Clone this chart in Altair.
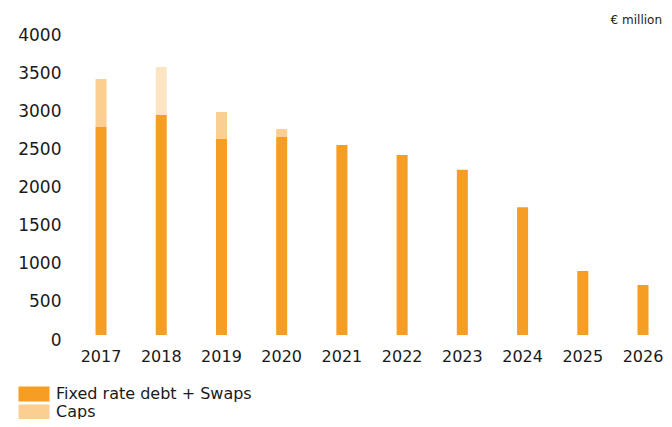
import altair as alt
import pandas as pd

years = ["2017", "2018", "2019", "2020", "2021", "2022", "2023", "2024", "2025", "2026"]
fixed_swaps = [2728, 2885, 2570, 2597, 2492, 2361, 2168, 1675, 839, 656]
caps = [629, 630, 355, 105, 0, 0, 0, 0, 0, 0]
series_names = ["Fixed rate debt + Swaps", "Caps"]
colors = ["#F59E23", "#FBCF91"]

rows = []
for i, y in enumerate(years):
    rows.append({"year": y, "series": series_names[0], "value": fixed_swaps[i], "order": 0})
    rows.append({"year": y, "series": series_names[1], "value": caps[i], "order": 1})
df = pd.DataFrame(rows)

FONT = "DejaVu Sans"

bars = alt.Chart(df).mark_bar().encode(
    x=alt.X("year:N", sort=years,
            scale=alt.Scale(paddingInner=0.817, paddingOuter=0.357, align=0.64),
            axis=alt.Axis(title=None, labelAngle=0, ticks=False, domain=False,
                          labelFontSize=16, labelFont=FONT, labelColor="#1a1a1a",
                          labelPadding=13)),
    y=alt.Y("value:Q", stack="zero",
            scale=alt.Scale(domain=[0, 4000], nice=False),
            axis=alt.Axis(title=None, values=[0, 500, 1000, 1500, 2000, 2500, 3000, 3500, 4000],
                          format="d", ticks=False, domain=False, grid=False,
                          labelFontSize=17, labelFont=FONT, labelColor="#1a1a1a",
                          labelPadding=7, labelOffset=5)),
    color=alt.Color("series:N", sort=series_names,
                    scale=alt.Scale(domain=series_names, range=colors),
                    legend=alt.Legend(title=None, orient="none", legendX=-42, legendY=356,
                                      direction="vertical",
                                      symbolType="M-1.94,-0.94H1.94V0.94H-1.94Z", symbolSize=256,
                                      symbolStrokeWidth=0, symbolOpacity=1,
                                      labelFontSize=16, labelFont=FONT, labelColor="#1a1a1a",
                                      labelLimit=400,
                                      rowPadding=2, labelOffset=14)),
    order=alt.Order("order:Q"),
    opacity=alt.condition("datum.year == '2018' && datum.series == 'Caps'", alt.value(0.55), alt.value(1)),
)

unit = alt.Chart(pd.DataFrame({"t": ["€ million"]})).mark_text(
    font=FONT, fontSize=12, align="right", baseline="middle", color="#1a1a1a"
).encode(text="t:N", x=alt.value(594), y=alt.value(-10))

chart = alt.layer(bars, unit).properties(
    width=596, height=305,
    autosize=alt.AutoSizeParams(type="none"),
    padding={"left": 60, "top": 22, "right": 0, "bottom": 84},
).configure_view(stroke=None)

chart.save("out.html", embed_options={"renderer": "svg", "actions": False})
